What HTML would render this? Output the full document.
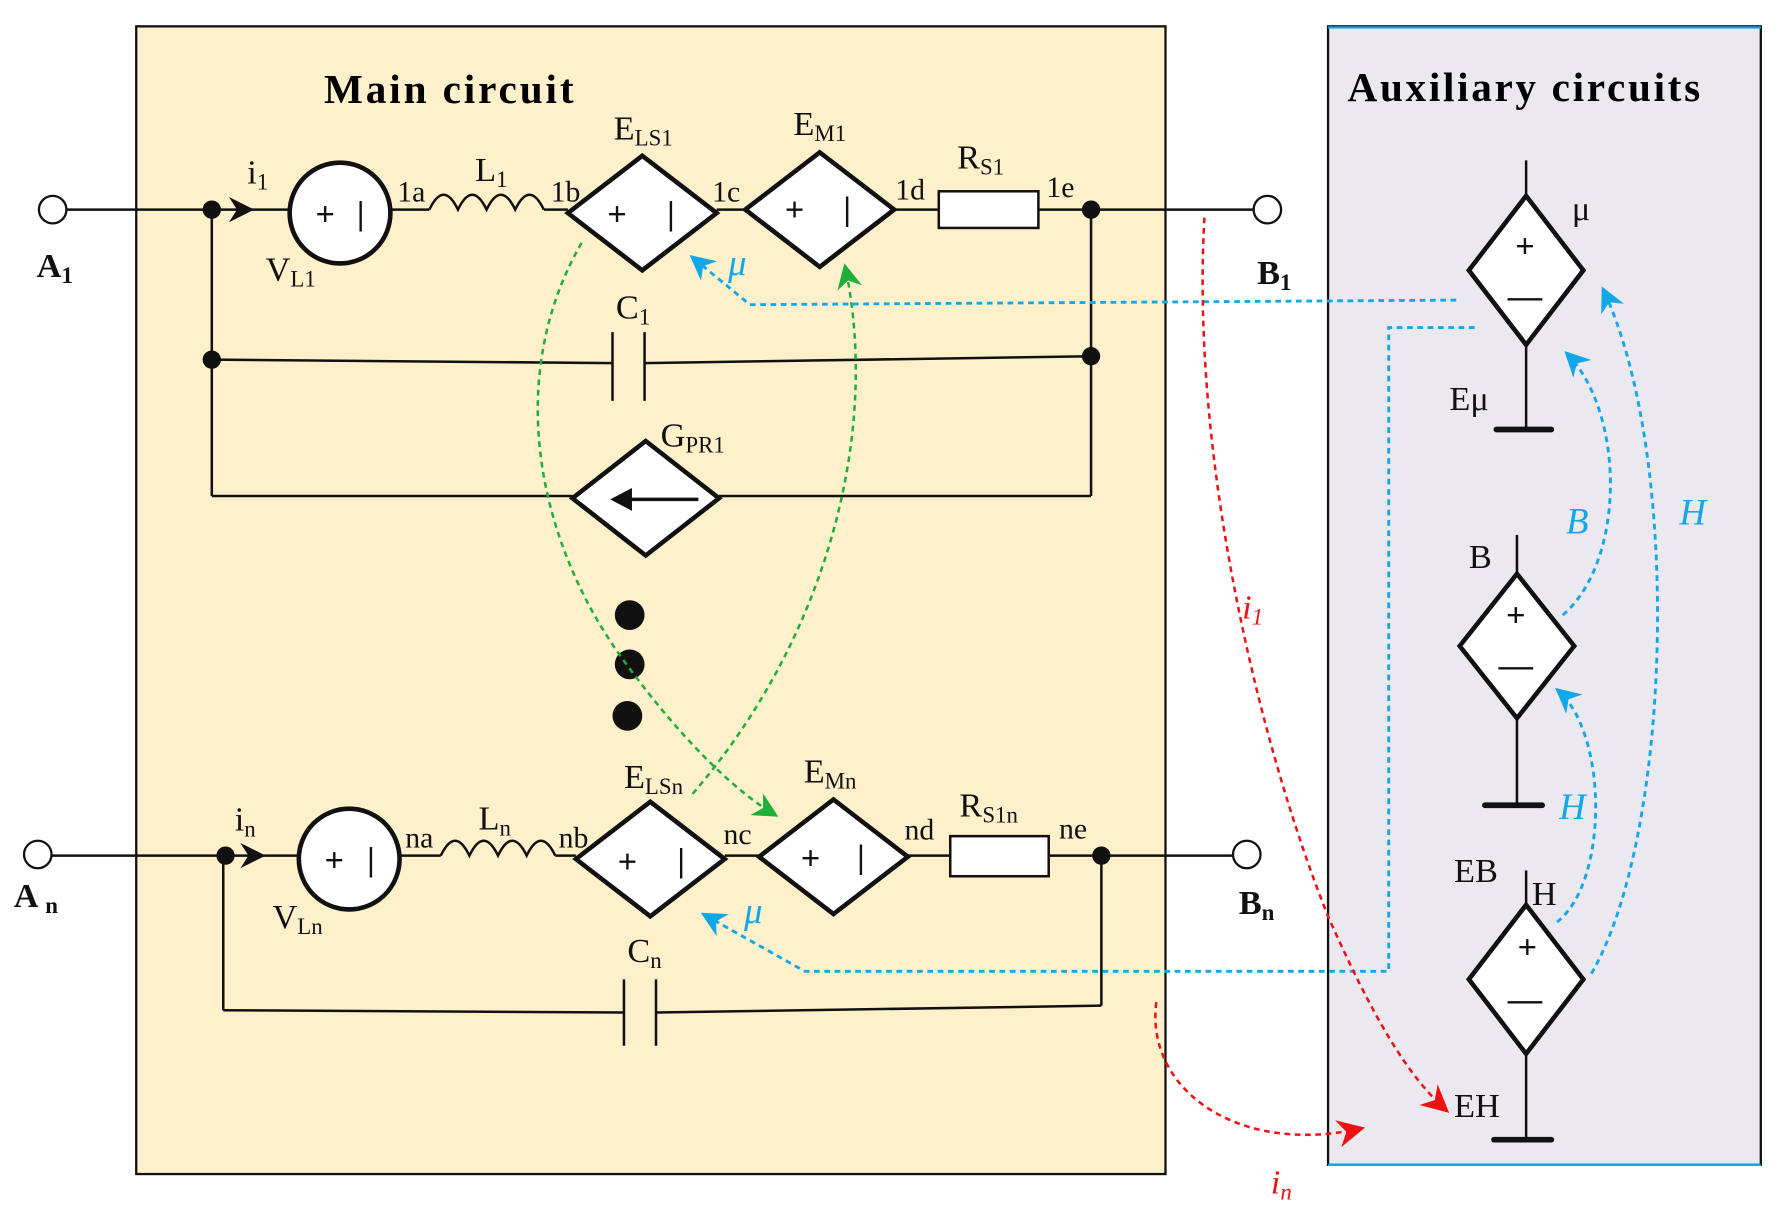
<!DOCTYPE html>
<html><head><meta charset="utf-8"><style>
html,body{margin:0;padding:0;background:#fff;}
svg{display:block;}
text{font-family:"Liberation Serif",serif;}
.s{font-size:20px;baseline-shift:-25%;}
</style></head><body>
<svg width="1786" height="1221" viewBox="0 0 1560 1066" preserveAspectRatio="none" xmlns="http://www.w3.org/2000/svg">
<defs>
<marker id="mb" viewBox="0 0 10 10" refX="9" refY="5" markerWidth="22" markerHeight="22" orient="auto" markerUnits="userSpaceOnUse"><path d="M0,0 L10,5 L0,10 L3,5 Z" fill="#12a7e8"/></marker>
<marker id="mg" viewBox="0 0 10 10" refX="9" refY="5" markerWidth="22" markerHeight="22" orient="auto" markerUnits="userSpaceOnUse"><path d="M0,0 L10,5 L0,10 L3,5 Z" fill="#1fae3a"/></marker>
<marker id="mr" viewBox="0 0 10 10" refX="9" refY="5" markerWidth="24" markerHeight="24" orient="auto" markerUnits="userSpaceOnUse"><path d="M0,0 L10,5 L0,10 L3,5 Z" fill="#ee1111"/></marker>
</defs>
<rect x="119" y="23" width="899" height="1002" fill="#fef0cb" stroke="#111" stroke-width="2"/>
<rect x="1160" y="23" width="378" height="994" fill="#ebe8ef" stroke="#111" stroke-width="2"/>
<line x1="1160" y1="24" x2="1538" y2="24" stroke="#12a7e8" stroke-width="2"/>
<line x1="1160" y1="1017" x2="1538" y2="1017" stroke="#12a7e8" stroke-width="2"/>
<text x="283" y="90" font-size="36" font-weight="bold" textLength="218">Main circuit</text>
<text x="1177" y="88" font-size="36" font-weight="bold" textLength="308">Auxiliary circuits</text>

<g stroke="#111" stroke-width="2.2" fill="none">
<line x1="57" y1="183" x2="253" y2="183"/>
<line x1="341" y1="183" x2="375" y2="183"/>
<path d="M375,183 q12.5,-26 25,0 q12.5,-26 25,0 q12.5,-26 25,0 q12.5,-26 25,0"/>
<line x1="475" y1="183" x2="496" y2="183"/>
<line x1="626" y1="183" x2="651" y2="183"/>
<line x1="781" y1="183" x2="820" y2="183"/>
<line x1="907" y1="183" x2="1096" y2="183"/>
<rect x="820" y="167" width="87" height="32" fill="#fff"/>
<line x1="185" y1="183" x2="185" y2="433"/>
<line x1="953" y1="183" x2="953" y2="433"/>
<line x1="185" y1="314" x2="535" y2="317"/>
<line x1="563" y1="317" x2="953" y2="311"/>
<line x1="535" y1="290" x2="535" y2="350"/><line x1="563" y1="290" x2="563" y2="350"/>
<line x1="185" y1="433" x2="500" y2="433"/><line x1="628" y1="433" x2="953" y2="433"/>
<line x1="44" y1="747" x2="261" y2="747"/>
<line x1="349" y1="747" x2="385" y2="747"/>
<path d="M385,747 q12.5,-26 25,0 q12.5,-26 25,0 q12.5,-26 25,0 q12.5,-26 25,0"/>
<line x1="485" y1="747" x2="503" y2="747"/>
<line x1="633" y1="747" x2="663" y2="747"/>
<line x1="793" y1="747" x2="830" y2="747"/>
<line x1="916" y1="747" x2="1078" y2="747"/>
<rect x="830" y="730" width="86" height="35" fill="#fff"/>
<line x1="195" y1="747" x2="195" y2="882"/>
<line x1="962" y1="747" x2="962" y2="878"/>
<line x1="195" y1="882" x2="545" y2="884"/>
<line x1="573" y1="884" x2="962" y2="878"/>
<line x1="545" y1="855" x2="545" y2="913"/><line x1="573" y1="855" x2="573" y2="913"/>
<line x1="1333" y1="140" x2="1333" y2="172"/><line x1="1333" y1="300" x2="1333" y2="375"/>
<line x1="1325" y1="467" x2="1325" y2="502"/><line x1="1325" y1="626" x2="1325" y2="703"/>
<line x1="1333" y1="760" x2="1333" y2="792"/><line x1="1333" y1="918" x2="1333" y2="995"/>
</g>
<g stroke="#111" stroke-width="5" stroke-linecap="round">
<line x1="1307" y1="375" x2="1355" y2="375"/>
<line x1="1297" y1="703" x2="1347" y2="703"/>
<line x1="1305" y1="995" x2="1355" y2="995"/>
</g>
<g fill="#fff" stroke="#111" stroke-width="2">
<circle cx="46" cy="183" r="12"/><circle cx="1107" cy="183" r="12"/>
<circle cx="33" cy="746" r="12"/><circle cx="1089" cy="746" r="12"/>
<circle cx="297" cy="186" r="44" stroke-width="4"/>
<circle cx="305" cy="750" r="44" stroke-width="4"/>
<polygon points="496,186 561,136 626,186 561,236" stroke-width="4"/>
<polygon points="651,183 716,133 781,183 716,233" stroke-width="4"/>
<polygon points="500,435 564,385 628,435 564,485" stroke-width="4"/>
<polygon points="503,750 568,700 633,750 568,800" stroke-width="4"/>
<polygon points="663,748 728,698 793,748 728,798" stroke-width="4"/>
<polygon points="1283,236 1333,171 1383,236 1333,301" stroke-width="4"/>
<polygon points="1275,564 1325,501 1375,564 1325,627" stroke-width="4"/>
<polygon points="1283,855 1333,790 1383,855 1333,920" stroke-width="4"/>
</g>
<g fill="#111">
<circle cx="185" cy="183" r="8"/><circle cx="953" cy="183" r="8"/>
<circle cx="185" cy="314" r="8"/><circle cx="953" cy="311" r="8"/>
<circle cx="197" cy="747" r="8"/><circle cx="962" cy="747" r="8"/>
<circle cx="550" cy="537" r="13"/><circle cx="550" cy="580" r="13"/><circle cx="548" cy="625" r="13"/>
<path d="M200,172 L222,183 L200,194 L207,183Z"/>
<path d="M210,736 L232,747 L210,758 L217,747Z"/>
<path d="M533,436 L552,426 L552,446Z"/>
</g>
<line x1="545" y1="436" x2="610" y2="436" stroke="#111" stroke-width="3"/>
<g font-family="Liberation Sans" font-weight="bold" font-size="30" fill="#111" text-anchor="middle">
<text x="284" y="197">+</text><text x="315" y="196">|</text>
<text x="292" y="761">+</text><text x="324" y="760">|</text>
<text x="539" y="197">+</text><text x="586" y="196">|</text>
<text x="694" y="193">+</text><text x="740" y="192">|</text>
<text x="548" y="762">+</text><text x="595" y="761">|</text>
<text x="708" y="759">+</text><text x="752" y="758">|</text>
<text x="1332" y="225">+</text><text x="1332" y="268">—</text>
<text x="1324" y="547">+</text><text x="1324" y="590">—</text>
<text x="1334" y="837">+</text><text x="1332" y="882">—</text>
</g>
<g fill="#111" font-size="30">
<text x="32" y="242" font-weight="bold">A<tspan class="s">1</tspan></text>
<text x="1098" y="248" font-weight="bold">B<tspan class="s">1</tspan></text>
<text x="12" y="792" font-weight="bold">A <tspan class="s">n</tspan></text>
<text x="1082" y="798" font-weight="bold">B<tspan class="s">n</tspan></text>
<text x="216" y="160">i<tspan class="s">1</tspan></text>
<text x="205" y="725">i<tspan class="s">n</tspan></text>
<text x="232" y="245">V<tspan class="s">L1</tspan></text>
<text x="238" y="810">V<tspan class="s">Ln</tspan></text>
<text x="415" y="158">L<tspan class="s">1</tspan></text>
<text x="418" y="724">L<tspan class="s">n</tspan></text>
<text x="536" y="122">E<tspan class="s">LS1</tspan></text>
<text x="693" y="118">E<tspan class="s">M1</tspan></text>
<text x="836" y="147">R<tspan class="s">S1</tspan></text>
<text x="538" y="278">C<tspan class="s">1</tspan></text>
<text x="577" y="390">G<tspan class="s">PR1</tspan></text>
<text x="545" y="688">E<tspan class="s">LSn</tspan></text>
<text x="702" y="683">E<tspan class="s">Mn</tspan></text>
<text x="838" y="713">R<tspan class="s">S1n</tspan></text>
<text x="548" y="840">C<tspan class="s">n</tspan></text>
<g font-size="26">
<text x="347" y="176">1a</text><text x="481" y="176">1b</text><text x="622" y="176">1c</text><text x="782" y="174">1d</text><text x="914" y="172">1e</text>
<text x="354" y="740">na</text><text x="488" y="740">nb</text><text x="632" y="737">nc</text><text x="790" y="733">nd</text><text x="925" y="732">ne</text>
</g>
<text x="1373" y="192">μ</text>
<text x="1266" y="358">Eμ</text>
<text x="1283" y="496">B</text>
<text x="1270" y="770">EB</text>
<text x="1338" y="790">H</text>
<text x="1270" y="975">EH</text>
</g>
<g fill="#12a7e8" font-size="32" font-style="italic">
<text x="636" y="240">μ</text><text x="650" y="806">μ</text>
<text x="1368" y="466">B</text><text x="1467" y="458">H</text><text x="1362" y="715">H</text>
</g>
<g fill="#ee1111" font-size="30" font-style="italic">
<text x="1085" y="540">i<tspan class="s">1</tspan></text>
<text x="1110" y="1042">i<tspan class="s">n</tspan></text>
</g>
<g stroke="#12a7e8" stroke-width="2.5" fill="none" stroke-dasharray="5,4">
<polyline points="1272,262 655,266 604,224" marker-end="url(#mb)"/>
<polyline points="1288,286 1213,286 1213,848 703,848 614,798" marker-end="url(#mb)"/>
<path d="M1365,537 C1420,490 1420,360 1368,308" marker-end="url(#mb)"/>
<path d="M1360,805 C1405,770 1405,640 1360,602" marker-end="url(#mb)"/>
<path d="M1390,850 C1460,730 1470,400 1400,252" marker-end="url(#mb)"/>
</g>
<g stroke="#1fae3a" stroke-width="2.2" fill="none" stroke-dasharray="5,4">
<path d="M508,212 C440,330 470,470 540,570 C590,640 640,690 678,712" marker-end="url(#mg)"/>
<path d="M605,693 C720,560 770,380 738,232" marker-end="url(#mg)"/>
</g>
<g stroke="#ee1111" stroke-width="2.2" fill="none" stroke-dasharray="5,4">
<path d="M1052,190 C1040,400 1100,650 1160,800 C1200,890 1230,940 1264,970" marker-end="url(#mr)"/>
<path d="M1010,875 C1000,950 1080,1010 1190,985" marker-end="url(#mr)"/>
</g>
</svg>
</body></html>
